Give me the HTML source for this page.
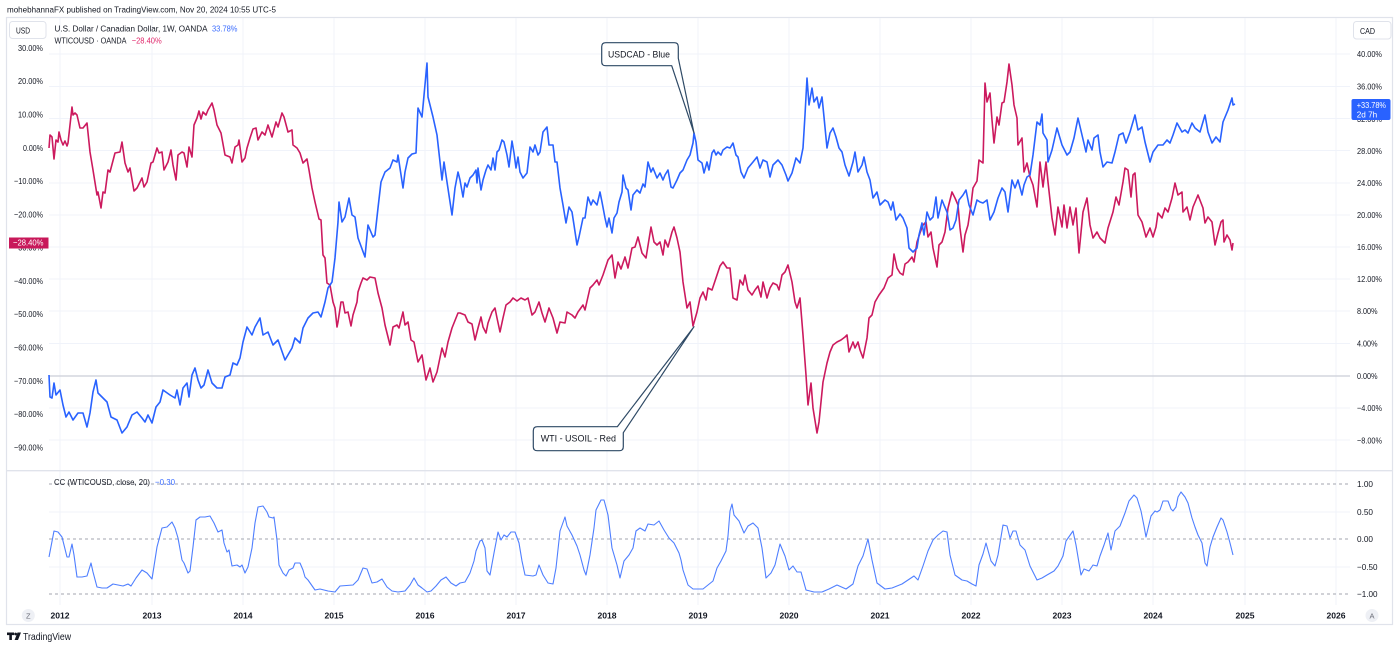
<!DOCTYPE html>
<html><head><meta charset="utf-8"><style>
html,body{margin:0;padding:0;background:#fff;}
svg{display:block;font-family:"Liberation Sans",sans-serif;}
</style></head><body>
<svg width="1400" height="649" viewBox="0 0 1400 649" xmlns="http://www.w3.org/2000/svg">
<rect x="0" y="0" width="1400" height="649" fill="#fff"/>
<text x="7" y="12.7" font-size="8.6" fill="#131722" textLength="269" lengthAdjust="spacingAndGlyphs">mohebhannaFX published on TradingView.com, Nov 20, 2024 10:55 UTC-5</text>

<!-- frame -->
<rect x="6.5" y="17.5" width="1386" height="607" fill="none" stroke="#e0e3eb" stroke-width="1.2"/>

<!-- vertical grid -->
<g stroke="#f0f3fa" stroke-width="1">
<line x1="60" y1="18" x2="60" y2="605"/><line x1="152" y1="18" x2="152" y2="605"/><line x1="243" y1="18" x2="243" y2="605"/><line x1="334" y1="18" x2="334" y2="605"/><line x1="425" y1="18" x2="425" y2="605"/><line x1="516" y1="18" x2="516" y2="605"/><line x1="607" y1="18" x2="607" y2="605"/><line x1="698" y1="18" x2="698" y2="605"/><line x1="789" y1="18" x2="789" y2="605"/><line x1="880" y1="18" x2="880" y2="605"/><line x1="971" y1="18" x2="971" y2="605"/><line x1="1062" y1="18" x2="1062" y2="605"/><line x1="1153" y1="18" x2="1153" y2="605"/><line x1="1245" y1="18" x2="1245" y2="605"/><line x1="1336" y1="18" x2="1336" y2="605"/>
</g>
<!-- horizontal grid top pane -->
<g stroke="#f0f3fa" stroke-width="1">
<line x1="49" y1="54" x2="1350" y2="54"/><line x1="49" y1="86.5" x2="1350" y2="86.5"/><line x1="49" y1="118.5" x2="1350" y2="118.5"/><line x1="49" y1="150.5" x2="1350" y2="150.5"/><line x1="49" y1="183" x2="1350" y2="183"/><line x1="49" y1="215" x2="1350" y2="215"/><line x1="49" y1="247" x2="1350" y2="247"/><line x1="49" y1="279" x2="1350" y2="279"/><line x1="49" y1="311" x2="1350" y2="311"/><line x1="49" y1="343.5" x2="1350" y2="343.5"/><line x1="49" y1="408" x2="1350" y2="408"/><line x1="49" y1="440" x2="1350" y2="440"/>
<line x1="49" y1="512" x2="1350" y2="512"/><line x1="49" y1="567" x2="1350" y2="567"/>
</g>
<line x1="49" y1="376" x2="1350" y2="376" stroke="#d3d5dd" stroke-width="1.6"/>

<!-- pane separator -->
<line x1="7" y1="470.7" x2="1393" y2="470.7" stroke="#e0e3eb" stroke-width="1.4"/>
<g stroke="#a3a6af" stroke-width="1" stroke-dasharray="3,3">
<line x1="49" y1="484" x2="1350" y2="484"/><line x1="49" y1="539" x2="1350" y2="539"/><line x1="49" y1="594" x2="1350" y2="594"/>
</g>

<!-- USD / CAD buttons -->
<rect x="9.5" y="21.5" width="36.5" height="17" rx="3" fill="#fff" stroke="#e0e3eb"/>
<text x="16" y="33.5" font-size="8.6" fill="#131722" textLength="14" lengthAdjust="spacingAndGlyphs">USD</text>
<rect x="1353.5" y="21.5" width="37.5" height="17.5" rx="3" fill="#fff" stroke="#e0e3eb"/>
<text x="1360" y="34" font-size="8.6" fill="#131722" textLength="15" lengthAdjust="spacingAndGlyphs">CAD</text>

<!-- legend -->
<text x="54.5" y="31.5" font-size="8.6" fill="#131722" textLength="153" lengthAdjust="spacingAndGlyphs">U.S. Dollar / Canadian Dollar, 1W, OANDA</text>
<text x="212" y="31.5" font-size="8.6" fill="#3a6cff" textLength="25.5" lengthAdjust="spacingAndGlyphs">33.78%</text>
<text x="54.5" y="43.3" font-size="8.6" fill="#131722" textLength="72" lengthAdjust="spacingAndGlyphs">WTICOUSD · OANDA</text>
<text x="131.7" y="43.3" font-size="8.6" fill="#e0266a" textLength="30" lengthAdjust="spacingAndGlyphs">−28.40%</text>

<!-- left axis -->
<g font-size="8.5" fill="#131722">
<text x="18" y="51" textLength="25" lengthAdjust="spacingAndGlyphs">30.00%</text>
<text x="18" y="84" textLength="25" lengthAdjust="spacingAndGlyphs">20.00%</text>
<text x="18" y="117.5" textLength="25" lengthAdjust="spacingAndGlyphs">10.00%</text>
<text x="23" y="151" textLength="20" lengthAdjust="spacingAndGlyphs">0.00%</text>
<text x="14" y="184" textLength="29" lengthAdjust="spacingAndGlyphs">−10.00%</text>
<text x="14" y="217.5" textLength="29" lengthAdjust="spacingAndGlyphs">−20.00%</text>
<text x="14" y="250.5" textLength="29" lengthAdjust="spacingAndGlyphs">−30.00%</text>
<text x="14" y="284" textLength="29" lengthAdjust="spacingAndGlyphs">−40.00%</text>
<text x="14" y="317" textLength="29" lengthAdjust="spacingAndGlyphs">−50.00%</text>
<text x="14" y="350.5" textLength="29" lengthAdjust="spacingAndGlyphs">−60.00%</text>
<text x="14" y="384" textLength="29" lengthAdjust="spacingAndGlyphs">−70.00%</text>
<text x="14" y="417" textLength="29" lengthAdjust="spacingAndGlyphs">−80.00%</text>
<text x="14" y="450.5" textLength="29" lengthAdjust="spacingAndGlyphs">−90.00%</text>
</g>
<rect x="9" y="237.5" width="39.5" height="11" fill="#c8185a"/>
<text x="13" y="245.5" font-size="8.5" fill="#fff" textLength="30.5" lengthAdjust="spacingAndGlyphs">−28.40%</text>

<!-- right axis -->
<g font-size="8.5" fill="#131722">
<text x="1357" y="57" textLength="25" lengthAdjust="spacingAndGlyphs">40.00%</text>
<text x="1357" y="89.5" textLength="25" lengthAdjust="spacingAndGlyphs">36.00%</text>
<text x="1357" y="122" textLength="25" lengthAdjust="spacingAndGlyphs">32.00%</text>
<text x="1357" y="154" textLength="25" lengthAdjust="spacingAndGlyphs">28.00%</text>
<text x="1357" y="186" textLength="25" lengthAdjust="spacingAndGlyphs">24.00%</text>
<text x="1357" y="218" textLength="25" lengthAdjust="spacingAndGlyphs">20.00%</text>
<text x="1357" y="250" textLength="25" lengthAdjust="spacingAndGlyphs">16.00%</text>
<text x="1357" y="282" textLength="25" lengthAdjust="spacingAndGlyphs">12.00%</text>
<text x="1357" y="314" textLength="20.5" lengthAdjust="spacingAndGlyphs">8.00%</text>
<text x="1357" y="346.5" textLength="20.5" lengthAdjust="spacingAndGlyphs">4.00%</text>
<text x="1357" y="379" textLength="20.5" lengthAdjust="spacingAndGlyphs">0.00%</text>
<text x="1357" y="411" textLength="25" lengthAdjust="spacingAndGlyphs">−4.00%</text>
<text x="1357" y="443.5" textLength="25" lengthAdjust="spacingAndGlyphs">−8.00%</text>
<text x="1357" y="487" textLength="16" lengthAdjust="spacingAndGlyphs">1.00</text>
<text x="1357" y="515" textLength="16" lengthAdjust="spacingAndGlyphs">0.50</text>
<text x="1357" y="542" textLength="16" lengthAdjust="spacingAndGlyphs">0.00</text>
<text x="1357" y="570" textLength="20.5" lengthAdjust="spacingAndGlyphs">−0.50</text>
<text x="1357" y="597" textLength="20.5" lengthAdjust="spacingAndGlyphs">−1.00</text>
</g>
<rect x="1351.5" y="99" width="39" height="21" rx="2" fill="#2962ff"/>
<text x="1356.7" y="108" font-size="8.5" fill="#fff" textLength="29.3" lengthAdjust="spacingAndGlyphs">+33.78%</text>
<text x="1356.7" y="117.5" font-size="8.5" fill="#fff" textLength="20.5" lengthAdjust="spacingAndGlyphs">2d 7h</text>

<!-- CC legend -->
<text x="54" y="485" font-size="8.6" fill="#131722" textLength="96" lengthAdjust="spacingAndGlyphs">CC (WTICOUSD, close, 20)</text>
<text x="155" y="485" font-size="8.6" fill="#3a6cff" textLength="20" lengthAdjust="spacingAndGlyphs">−0.30</text>

<!-- red WTI -->
<polyline fill="none" stroke="#cc1a5e" stroke-width="1.6" stroke-linejoin="round" points="49,148 50,135 52,137 54,159 56,140 58,142 59,132 61,140 63,145 65,141 67,146 68,143 72,107 73,115 75,113 77,115 80,128 83,128 87,123 90,152 93,170 97,195 98,192 101,208 103,192 105,193 108,170 110,172 115,153 120,152 122,142 125,163 128,172 130,168 134,191 137,188 142,178 144,187 147,182 151,163 153,162 157,148 159,153 162,152 164,170 168,162 171,150 173,165 176,180 178,155 182,152 184,153 187,167 189,147 192,157 194,125 197,118 199,111 201,119 203,112 206,115 208,110 212,103 214,110 217,125 221,133 225,155 230,157 232,163 235,147 238,145 239,140 242,162 245,158 247,148 250,138 253,129 256,128 258,140 262,132 265,135 268,125 272,137 276,122 278,127 282,113 284,117 288,132 292,130 293,145 297,148 300,153 303,163 307,159 309,170 312,188 315,202 319,219 321,220 323,255 325,258 327,283 330,285 333,302 335,308 337,327 338,322 341,302 343,302 345,313 348,312 351,326 353,315 357,302 358,292 361,283 363,278 367,280 370,277 375,278 378,293 382,308 385,325 390,345 393,327 397,325 399,328 403,312 405,325 408,322 411,340 414,342 418,362 422,355 426,380 430,368 433,382 437,372 442,348 445,357 448,342 452,328 458,313 460,313 465,315 468,322 472,324 475,340 478,328 481,317 483,327 486,333 488,323 492,312 495,308 497,318 500,332 503,318 506,305 510,302 513,298 517,301 521,298 525,300 528,298 532,315 535,312 539,302 542,313 545,322 549,308 553,318 557,333 560,322 565,323 567,312 572,315 575,318 578,312 583,305 585,310 590,288 593,285 597,280 599,285 603,275 608,260 612,255 615,278 618,262 621,269 625,257 628,268 632,248 635,247 638,237 642,253 646,258 651,227 654,242 657,245 660,242 663,255 665,240 668,247 672,232 674,227 677,238 680,252 683,282 687,308 690,302 693,326 697,312 700,298 703,292 706,300 708,288 712,290 716,278 720,266 723,262 727,268 730,268 733,298 737,300 740,280 743,285 745,275 748,290 752,295 755,290 758,286 761,297 763,282 767,298 770,288 773,283 777,285 779,290 782,275 785,272 788,265 792,282 795,302 797,308 800,298 803,335 806,375 808,405 811,383 813,408 817,433 819,422 823,382 827,363 830,352 833,345 837,342 841,340 845,337 847,335 849,352 853,342 855,348 858,342 860,350 863,358 867,338 869,318 872,315 875,302 879,295 884,288 888,278 892,275 894,254 897,268 900,273 903,275 905,264 908,262 912,257 914,262 917,242 920,233 923,225 926,222 928,237 931,232 933,248 937,267 939,245 942,242 945,232 948,208 952,192 955,198 958,205 960,228 963,252 965,235 968,225 971,205 973,188 977,181 979,160 983,163 985,83 987,102 990,93 992,120 994,143 997,117 999,125 1002,103 1004,102 1007,82 1009,64 1012,85 1014,105 1017,118 1018,145 1022,138 1024,172 1027,163 1030,177 1033,185 1037,207 1040,162 1043,187 1046,162 1048,182 1052,218 1055,235 1058,207 1062,227 1064,205 1067,228 1070,207 1073,225 1076,208 1079,253 1083,212 1087,198 1090,225 1093,238 1097,232 1100,238 1105,243 1108,228 1113,212 1116,197 1119,205 1123,182 1125,168 1128,170 1131,197 1133,175 1135,173 1138,215 1142,222 1146,237 1150,228 1153,237 1156,227 1158,213 1162,218 1165,208 1168,212 1172,198 1175,183 1178,195 1182,192 1183,212 1187,207 1190,220 1193,207 1198,195 1203,208 1205,223 1208,217 1212,222 1215,245 1218,233 1221,222 1223,220 1224,242 1227,235 1230,240 1232,250 1233,243"/>

<!-- blue USDCAD -->
<polyline fill="none" stroke="#2962ff" stroke-width="1.6" stroke-linejoin="round" points="49,375 50,397 52,398 54,383 56,395 60,390 63,405 66,417 69,412 73,420 78,413 83,413 87,427 90,413 93,392 96,380 98,393 102,397 107,402 111,417 117,420 122,433 127,427 132,415 137,412 142,418 145,422 148,415 152,423 156,407 160,402 163,390 170,395 175,398 177,390 180,405 183,388 187,383 189,397 192,375 195,368 198,380 201,388 204,385 208,370 212,383 217,388 222,388 225,377 230,375 233,363 237,365 240,358 243,342 247,327 252,335 255,327 260,318 263,335 268,332 273,345 278,340 285,360 292,348 295,338 300,343 303,328 308,318 313,313 318,312 321,317 325,302 328,288 332,282 335,258 338,222 339,202 342,222 345,217 349,198 352,215 355,217 358,238 365,257 368,225 373,237 375,235 378,208 381,182 385,172 390,168 393,160 397,162 398,155 403,188 405,172 408,158 412,154 416,153 418,108 422,117 427,63 428,97 433,117 437,135 442,180 444,162 447,182 452,215 455,188 458,172 460,180 463,197 465,183 467,187 470,178 473,175 476,170 477,183 478,168 481,190 483,180 486,170 488,165 491,170 493,158 495,170 497,152 499,150 502,140 504,142 507,155 509,167 512,141 514,153 516,168 518,157 520,172 523,178 527,173 530,147 533,152 535,145 538,155 540,152 543,132 547,127 549,145 553,145 555,162 557,162 560,188 563,205 566,223 569,207 572,212 574,225 577,245 579,237 583,218 585,218 588,197 591,205 593,200 597,205 600,192 602,202 605,218 607,227 609,218 612,233 614,218 617,213 619,202 622,192 623,175 626,188 628,190 631,210 633,195 637,190 640,193 643,184 645,187 648,162 651,172 653,168 657,178 660,173 663,180 665,175 668,170 671,187 673,188 677,180 680,173 683,170 687,160 690,155 693,143 694,133 696,142 698,160 702,163 704,173 707,162 709,170 712,153 714,150 716,155 718,152 721,155 723,150 727,147 730,148 733,143 736,155 738,157 741,172 744,178 748,168 753,162 757,157 760,168 763,160 767,162 770,177 773,165 778,160 782,165 786,175 788,181 792,173 796,158 800,163 803,148 805,115 807,78 809,105 812,88 814,102 817,97 819,108 822,97 824,117 827,148 830,133 833,128 836,137 839,148 842,152 845,165 849,176 853,162 855,152 858,172 862,165 864,157 867,172 870,180 873,198 877,192 880,205 885,200 888,202 891,210 893,202 896,220 900,214 903,218 907,228 909,248 913,252 917,248 919,235 922,223 924,235 927,212 930,220 933,217 936,197 938,218 942,200 944,205 947,212 950,230 953,228 956,220 959,200 963,195 966,190 969,205 973,215 977,200 980,202 983,203 987,200 990,220 994,212 998,198 1002,188 1005,192 1008,212 1012,180 1015,188 1018,180 1022,195 1024,185 1027,177 1030,175 1033,155 1037,122 1040,125 1042,114 1043,133 1047,140 1048,162 1052,150 1057,128 1062,145 1067,155 1070,152 1074,138 1078,118 1082,135 1086,152 1088,140 1092,150 1094,138 1098,135 1100,152 1103,167 1107,162 1112,163 1115,152 1119,135 1123,133 1126,143 1130,132 1135,115 1138,130 1142,127 1145,142 1150,162 1153,152 1158,145 1163,145 1167,140 1170,143 1173,135 1177,123 1182,132 1185,130 1188,133 1192,123 1195,128 1200,132 1205,115 1208,132 1212,143 1216,137 1220,142 1223,122 1228,110 1232,98 1233,105 1235,104"/>

<!-- CC line -->
<polyline fill="none" stroke="#4f7fff" stroke-width="1.1" stroke-linejoin="round" points="49,557 54,531 58,532 62,537 64,545 67,557 69,557 72,544 74,555 77,577 82,577 87,576 91,563 93,572 97,587 102,588 107,588 113,584 118,585 123,586 128,584 131,586 136,578 142,570 147,573 152,579 157,547 162,528 167,527 172,522 175,528 178,538 182,560 184,563 188,573 190,571 193,547 196,520 200,517 205,517 210,516 214,523 218,532 222,530 224,543 227,552 229,550 232,566 237,565 240,567 242,565 245,573 248,567 252,548 255,523 258,507 263,506 267,512 269,517 273,518 274,517 277,540 279,565 283,573 286,576 289,570 293,568 295,563 300,563 303,570 305,577 308,580 315,590 320,589 328,591 335,592 340,586 353,585 358,580 363,568 367,569 372,583 377,582 382,579 387,587 392,591 398,592 405,591 410,585 414,578 418,585 422,588 427,592 431,591 436,586 441,580 446,577 451,583 456,586 460,583 465,582 470,573 474,561 476,551 480,541 482,540 485,548 487,571 490,575 494,553 498,532 501,540 504,535 507,537 511,532 515,532 519,543 522,561 525,575 533,576 536,575 539,565 543,575 548,583 553,584 556,568 560,531 565,517 567,526 572,535 577,546 580,555 584,570 586,575 590,555 594,528 596,510 601,500 604,500 608,515 612,548 617,565 620,578 624,561 629,555 633,548 636,531 640,528 645,531 648,524 654,525 659,521 664,530 669,538 674,543 679,553 681,560 683,570 688,585 693,589 703,589 708,585 713,581 717,568 721,561 726,551 728,536 730,511 732,504 734,515 739,521 744,533 748,526 753,523 758,528 762,548 766,578 771,573 775,565 780,544 785,556 789,570 793,566 797,572 801,572 806,590 814,592 822,592 829,589 837,585 846,589 853,584 858,566 863,556 868,539 872,560 877,583 885,589 892,588 902,584 914,576 918,580 923,566 928,551 933,540 938,535 943,531 947,532 950,555 955,575 962,580 967,581 972,584 976,586 979,565 983,554 986,543 991,561 995,566 998,555 1003,525 1007,526 1010,538 1013,531 1016,531 1020,545 1025,550 1030,566 1037,580 1042,578 1047,575 1054,571 1058,566 1063,556 1066,541 1073,531 1076,545 1081,575 1084,569 1089,571 1093,565 1097,566 1100,556 1104,545 1108,533 1111,550 1115,531 1120,526 1125,513 1129,501 1134,495 1137,498 1141,511 1144,526 1146,537 1151,516 1155,511 1157,512 1160,510 1163,501 1168,501 1171,509 1173,511 1176,507 1178,497 1181,492 1185,497 1188,503 1192,518 1195,527 1198,535 1202,543 1205,563 1207,566 1210,547 1213,537 1217,527 1221,518 1223,520 1227,532 1230,543 1233,555"/>

<!-- callouts -->
<path d="M605.7,42.7 H674.3 Q678.3,42.7 678.3,46.7 V58.3 L694,133 L671.7,65.7 H605.7 Q601.7,65.7 601.7,61.7 V46.7 Q601.7,42.7 605.7,42.7 Z" fill="#fff" stroke="#2f4a66" stroke-width="1.2" stroke-linejoin="round"/>
<text x="608" y="57.3" font-size="9.2" fill="#131722" textLength="62" lengthAdjust="spacingAndGlyphs">USDCAD - Blue</text>
<path d="M537.3,426.7 H617.3 L694,326.7 L623.3,432.7 V446.7 Q623.3,450.7 619.3,450.7 H537.3 Q533.3,450.7 533.3,446.7 V430.7 Q533.3,426.7 537.3,426.7 Z" fill="#fff" stroke="#2f4a66" stroke-width="1.2" stroke-linejoin="round"/>
<text x="540.7" y="441.7" font-size="9.2" fill="#131722" textLength="75.3" lengthAdjust="spacingAndGlyphs">WTI - USOIL - Red</text>

<!-- x axis labels -->
<g font-size="8.6" font-weight="bold" fill="#131722" text-anchor="middle">
<text x="60" y="618.5">2012</text><text x="152" y="618.5">2013</text><text x="243" y="618.5">2014</text><text x="334" y="618.5">2015</text><text x="425" y="618.5">2016</text><text x="516" y="618.5">2017</text><text x="607" y="618.5">2018</text><text x="698" y="618.5">2019</text><text x="789" y="618.5">2020</text><text x="880" y="618.5">2021</text><text x="971" y="618.5">2022</text><text x="1062" y="618.5">2023</text><text x="1153" y="618.5">2024</text><text x="1245" y="618.5">2025</text><text x="1336" y="618.5">2026</text>
</g>
<circle cx="28.3" cy="615.5" r="6.5" fill="#eef0f5"/>
<text x="28.3" y="618.5" font-size="7.5" fill="#6a6d78" text-anchor="middle">Z</text>
<circle cx="1372" cy="615.5" r="6.5" fill="#eef0f5"/>
<text x="1372" y="618.5" font-size="7.5" fill="#6a6d78" text-anchor="middle">A</text>

<!-- TradingView logo -->
<g fill="#131722">
<rect x="7" y="632.5" width="7" height="2.6"/>
<rect x="9.3" y="632.5" width="2.6" height="7.5"/>
<circle cx="15.6" cy="634" r="1.4"/>
<polygon points="17.5,632.5 21,632.5 18,640 14.6,640"/>
</g>
<text x="23" y="640" font-size="10.2" fill="#131722" textLength="48" lengthAdjust="spacingAndGlyphs">TradingView</text>
</svg>
</body></html>
